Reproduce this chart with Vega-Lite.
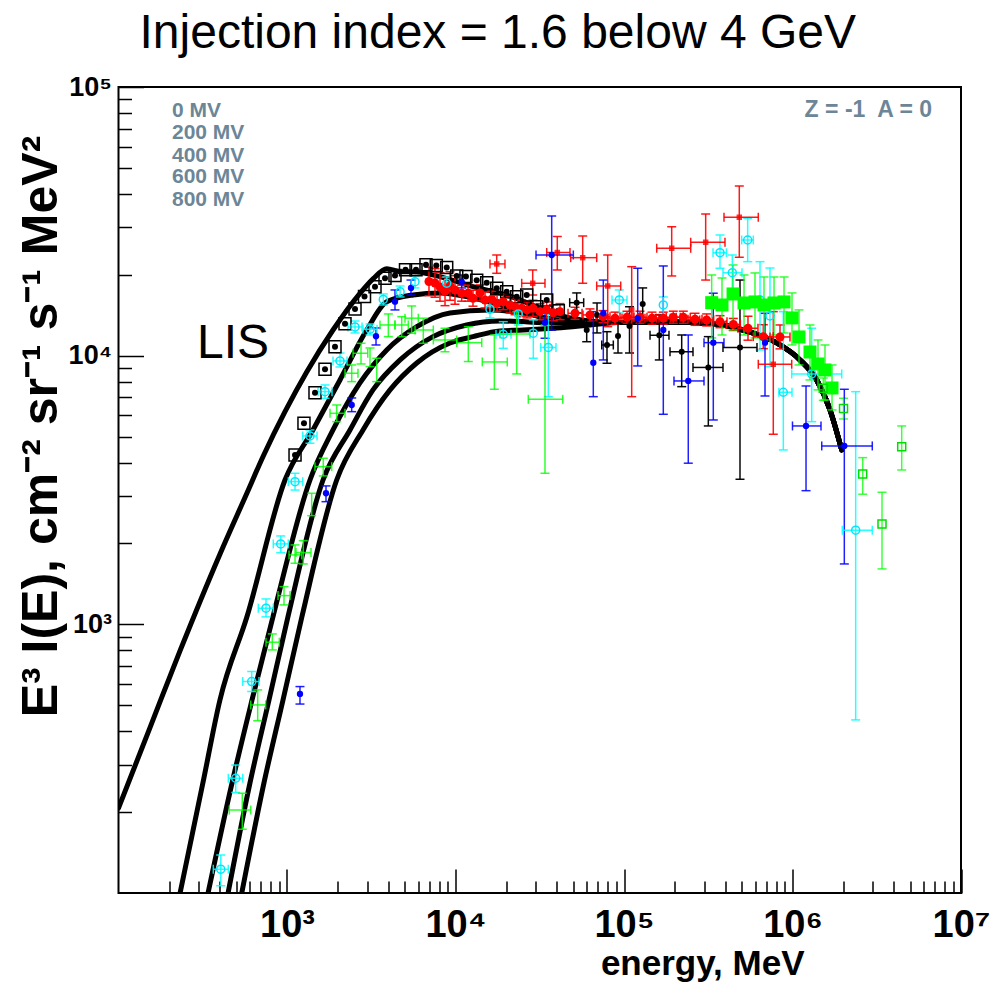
{
  "$schema": "https://vega.github.io/schema/vega-lite/v6.json",
  "width": 842.5,
  "height": 806,
  "autosize": {"type": "none"},
  "padding": {"left": 118.5, "top": 87, "right": 29, "bottom": 89},
  "background": "white",
  "config": {"view": {"stroke": "black", "strokeWidth": 2}, "font": "Liberation Sans"},
  "datasets": {
    "curves": [
      {"c": "LIS", "E": 100, "F": 207}, {"c": "LIS", "E": 153.8, "F": 412.9}, {"c": "LIS", "E": 231.7, "F": 796.2}, {"c": "LIS", "E": 400.4, "F": 1828}, {"c": "LIS", "E": 577, "F": 3070}, {"c": "LIS", "E": 723.3, "F": 4233}, {"c": "LIS", "E": 973, "F": 6188}, {"c": "LIS", "E": 1309, "F": 8697}, {"c": "LIS", "E": 1875, "F": 12460}, {"c": "LIS", "E": 2710, "F": 17060}, {"c": "LIS", "E": 3252, "F": 19360}, {"c": "LIS", "E": 3908, "F": 21080}, {"c": "LIS", "E": 4690, "F": 20540}, {"c": "LIS", "E": 5890, "F": 20490}, {"c": "LIS", "E": 8090, "F": 19680}, {"c": "LIS", "E": 12700, "F": 18070}, {"c": "LIS", "E": 20140, "F": 16820}, {"c": "LIS", "E": 31740, "F": 15050}, {"c": "LIS", "E": 47800, "F": 13820}, {"c": "LIS", "E": 90900, "F": 13290}, {"c": "LIS", "E": 163600, "F": 13350}, {"c": "LIS", "E": 323800, "F": 13200}, {"c": "LIS", "E": 508400, "F": 12460}, {"c": "LIS", "E": 806000, "F": 11150}, {"c": "LIS", "E": 1108000, "F": 9640}, {"c": "LIS", "E": 1392000, "F": 8120}, {"c": "LIS", "E": 1670000, "F": 6280}, {"c": "LIS", "E": 1959000, "F": 4457},
      {"c": "M200", "E": 232, "F": 100}, {"c": "M200", "E": 317, "F": 257}, {"c": "M200", "E": 400, "F": 523}, {"c": "M200", "E": 579, "F": 1069}, {"c": "M200", "E": 973, "F": 3445}, {"c": "M200", "E": 1426, "F": 5290}, {"c": "M200", "E": 2063, "F": 8120}, {"c": "M200", "E": 2972, "F": 12460}, {"c": "M200", "E": 3908, "F": 15880}, {"c": "M200", "E": 5600, "F": 16830}, {"c": "M200", "E": 8090, "F": 17120}, {"c": "M200", "E": 12700, "F": 16400}, {"c": "M200", "E": 20140, "F": 15220}, {"c": "M200", "E": 31740, "F": 13970}, {"c": "M200", "E": 47800, "F": 13350}, {"c": "M200", "E": 90900, "F": 13290}, {"c": "M200", "E": 163600, "F": 13350}, {"c": "M200", "E": 323800, "F": 13200}, {"c": "M200", "E": 508400, "F": 12460}, {"c": "M200", "E": 806000, "F": 11150}, {"c": "M200", "E": 1108000, "F": 9640}, {"c": "M200", "E": 1392000, "F": 8120}, {"c": "M200", "E": 1670000, "F": 6280}, {"c": "M200", "E": 1959000, "F": 4457},
      {"c": "M400", "E": 340, "F": 100}, {"c": "M400", "E": 472, "F": 257}, {"c": "M400", "E": 620, "F": 523}, {"c": "M400", "E": 826, "F": 1069}, {"c": "M400", "E": 1369, "F": 3445}, {"c": "M400", "E": 1875, "F": 5290}, {"c": "M400", "E": 2710, "F": 7913}, {"c": "M400", "E": 3908, "F": 10500}, {"c": "M400", "E": 5890, "F": 12820}, {"c": "M400", "E": 9270, "F": 14420}, {"c": "M400", "E": 16020, "F": 14790}, {"c": "M400", "E": 25160, "F": 14420}, {"c": "M400", "E": 39870, "F": 13580}, {"c": "M400", "E": 90900, "F": 13290}, {"c": "M400", "E": 163600, "F": 13350}, {"c": "M400", "E": 323800, "F": 13200}, {"c": "M400", "E": 508400, "F": 12460}, {"c": "M400", "E": 806000, "F": 11150}, {"c": "M400", "E": 1108000, "F": 9640}, {"c": "M400", "E": 1392000, "F": 8120}, {"c": "M400", "E": 1670000, "F": 6280}, {"c": "M400", "E": 1959000, "F": 4457},
      {"c": "M600", "E": 447, "F": 100}, {"c": "M600", "E": 603, "F": 257}, {"c": "M600", "E": 782, "F": 523}, {"c": "M600", "E": 1014, "F": 1069}, {"c": "M600", "E": 1636, "F": 3445}, {"c": "M600", "E": 2365, "F": 5290}, {"c": "M600", "E": 3238, "F": 7455}, {"c": "M600", "E": 4690, "F": 9640}, {"c": "M600", "E": 7355, "F": 11770}, {"c": "M600", "E": 11650, "F": 13010}, {"c": "M600", "E": 18370, "F": 13460}, {"c": "M600", "E": 39870, "F": 13240}, {"c": "M600", "E": 90900, "F": 13290}, {"c": "M600", "E": 163600, "F": 13350}, {"c": "M600", "E": 323800, "F": 13200}, {"c": "M600", "E": 508400, "F": 12460}, {"c": "M600", "E": 806000, "F": 11150}, {"c": "M600", "E": 1108000, "F": 9640}, {"c": "M600", "E": 1392000, "F": 8120}, {"c": "M600", "E": 1670000, "F": 6280}, {"c": "M600", "E": 1959000, "F": 4457},
      {"c": "M800", "E": 539, "F": 100}, {"c": "M800", "E": 730, "F": 257}, {"c": "M800", "E": 947, "F": 523}, {"c": "M800", "E": 1227, "F": 1069}, {"c": "M800", "E": 1972, "F": 3445}, {"c": "M800", "E": 2825, "F": 5290}, {"c": "M800", "E": 4087, "F": 7455}, {"c": "M800", "E": 5890, "F": 9393}, {"c": "M800", "E": 9270, "F": 11150}, {"c": "M800", "E": 12700, "F": 11770}, {"c": "M800", "E": 18370, "F": 12360}, {"c": "M800", "E": 25160, "F": 12460}, {"c": "M800", "E": 39870, "F": 12680}, {"c": "M800", "E": 62810, "F": 13010}, {"c": "M800", "E": 90900, "F": 13290}, {"c": "M800", "E": 163600, "F": 13350}, {"c": "M800", "E": 323800, "F": 13200}, {"c": "M800", "E": 508400, "F": 12460}, {"c": "M800", "E": 806000, "F": 11150}, {"c": "M800", "E": 1108000, "F": 9640}, {"c": "M800", "E": 1392000, "F": 8120}, {"c": "M800", "E": 1670000, "F": 6280}, {"c": "M800", "E": 1959000, "F": 4457}
    ],
    "pts": [
      {"s": "A", "E": 1116, "F": 4271}, {"s": "A", "E": 1261, "F": 5603}, {"s": "A", "E": 1466, "F": 7284}, {"s": "A", "E": 1681, "F": 8900}, {"s": "A", "E": 1927, "F": 10800}, {"s": "A", "E": 2209, "F": 13160}, {"s": "A", "E": 2533, "F": 14920}, {"s": "A", "E": 2884, "F": 16610}, {"s": "A", "E": 3329, "F": 18070}, {"s": "A", "E": 3816, "F": 19420}, {"s": "A", "E": 4374, "F": 19890}, {"s": "A", "E": 5050, "F": 20900}, {"s": "A", "E": 5830, "F": 20900}, {"s": "A", "E": 6681, "F": 21820}, {"s": "A", "E": 7691, "F": 21660}, {"s": "A", "E": 8867, "F": 21290}, {"s": "A", "E": 10170, "F": 19800}, {"s": "A", "E": 11540, "F": 19720}, {"s": "A", "E": 13360, "F": 19080}, {"s": "A", "E": 15320, "F": 18700}, {"s": "A", "E": 17560, "F": 17810}, {"s": "A", "E": 20130, "F": 17300}, {"s": "A", "E": 23080, "F": 16580}, {"s": "A", "E": 26460, "F": 16820}, {"s": "A", "E": 30340, "F": 15220}, {"s": "A", "E": 34780, "F": 16120}, {"s": "A", "E": 40750, "F": 14710},
      {"s": "B", "E": 52400, "F": 15750, "Flo": 14420, "Fhi": 17120, "Elo": 47610, "Ehi": 57650},
      {"s": "B", "E": 60070, "F": 12460, "Flo": 11270, "Fhi": 13580},
      {"s": "B", "E": 69160, "F": 14180, "Flo": 12150, "Fhi": 15710},
      {"s": "B", "E": 79270, "F": 10960, "Flo": 9369, "Fhi": 12280, "Elo": 73760, "Ehi": 86420},
      {"s": "B", "E": 92140, "F": 11840, "Flo": 10230, "Fhi": 13240},
      {"s": "B", "E": 107800, "F": 12900, "Flo": 10230, "Fhi": 15220},
      {"s": "B", "E": 129100, "F": 15570, "Flo": 13580, "Fhi": 17870},
      {"s": "B", "E": 162000, "F": 11910, "Flo": 9640, "Fhi": 14180, "Elo": 142700, "Ehi": 184900},
      {"s": "B", "E": 220000, "F": 10340, "Flo": 7668, "Fhi": 11940, "Elo": 187500, "Ehi": 256700},
      {"s": "B", "E": 316500, "F": 9040, "Flo": 5475, "Fhi": 11770, "Elo": 256700, "Ehi": 386800},
      {"s": "B", "E": 488000, "F": 10730, "Flo": 3467, "Fhi": 19120, "Elo": 386800, "Ehi": 615600},
      {"s": "C", "E": 6961, "F": 18890, "Flo": 16720, "Fhi": 21340},
      {"s": "C", "E": 7554, "F": 18650, "Flo": 16500, "Fhi": 21070},
      {"s": "C", "E": 8090, "F": 18020, "Flo": 15950, "Fhi": 20360},
      {"s": "C", "E": 8665, "F": 17340, "Flo": 15350, "Fhi": 19590},
      {"s": "C", "E": 9276, "F": 18170, "Flo": 16080, "Fhi": 20530},
      {"s": "C", "E": 9931, "F": 17560, "Flo": 15540, "Fhi": 19840},
      {"s": "C", "E": 10880, "F": 17080, "Flo": 15950, "Fhi": 18290},
      {"s": "C", "E": 11870, "F": 17080, "Flo": 15950, "Fhi": 18290},
      {"s": "C", "E": 12700, "F": 16360, "Flo": 15280, "Fhi": 17520},
      {"s": "C", "E": 13980, "F": 17120, "Flo": 15990, "Fhi": 18340},
      {"s": "C", "E": 14970, "F": 16120, "Flo": 15050, "Fhi": 17260},
      {"s": "C", "E": 16400, "F": 16220, "Flo": 15150, "Fhi": 17370},
      {"s": "C", "E": 17640, "F": 15670, "Flo": 14630, "Fhi": 16780},
      {"s": "C", "E": 19210, "F": 15880, "Flo": 14830, "Fhi": 17010},
      {"s": "C", "E": 21060, "F": 15440, "Flo": 14420, "Fhi": 16540},
      {"s": "C", "E": 22550, "F": 15220, "Flo": 14210, "Fhi": 16300},
      {"s": "C", "E": 24710, "F": 15010, "Flo": 14010, "Fhi": 16080},
      {"s": "C", "E": 26570, "F": 14800, "Flo": 13820, "Fhi": 15850},
      {"s": "C", "E": 28840, "F": 15010, "Flo": 14010, "Fhi": 16080},
      {"s": "C", "E": 31740, "F": 14580, "Flo": 13610, "Fhi": 15620},
      {"s": "C", "E": 34780, "F": 14800, "Flo": 13820, "Fhi": 15850},
      {"s": "C", "E": 38050, "F": 14450, "Flo": 13490, "Fhi": 15480},
      {"s": "C", "E": 41710, "F": 14580, "Flo": 13610, "Fhi": 15620},
      {"s": "C", "E": 51210, "F": 14380, "Flo": 13660, "Fhi": 15140, "Elo": 46540, "Ehi": 56350},
      {"s": "C", "E": 62840, "F": 14180, "Flo": 13470, "Fhi": 14930, "Elo": 57110, "Ehi": 69140},
      {"s": "C", "E": 75060, "F": 13970, "Flo": 13270, "Fhi": 14710, "Elo": 68220, "Ehi": 82590},
      {"s": "C", "E": 88450, "F": 13790, "Flo": 13100, "Fhi": 14520, "Elo": 80390, "Ehi": 97320},
      {"s": "C", "E": 104200, "F": 13900, "Flo": 13200, "Fhi": 14640, "Elo": 94700, "Ehi": 114700},
      {"s": "C", "E": 124400, "F": 13900, "Flo": 13200, "Fhi": 14640, "Elo": 113100, "Ehi": 136900},
      {"s": "C", "E": 146600, "F": 13790, "Flo": 13100, "Fhi": 14520, "Elo": 133200, "Ehi": 161300},
      {"s": "C", "E": 171100, "F": 13790, "Flo": 13100, "Fhi": 14520, "Elo": 155500, "Ehi": 188300},
      {"s": "C", "E": 196100, "F": 13900, "Flo": 13200, "Fhi": 14640, "Elo": 178200, "Ehi": 215800},
      {"s": "C", "E": 224800, "F": 13900, "Flo": 13200, "Fhi": 14640, "Elo": 204300, "Ehi": 247300},
      {"s": "C", "E": 263900, "F": 13660, "Flo": 12970, "Fhi": 14380, "Elo": 239800, "Ehi": 290400},
      {"s": "C", "E": 309500, "F": 13580, "Flo": 12900, "Fhi": 14300, "Elo": 281300, "Ehi": 340500},
      {"s": "C", "E": 371300, "F": 13380, "Flo": 12710, "Fhi": 14090, "Elo": 337500, "Ehi": 408500},
      {"s": "C", "E": 445400, "F": 13070, "Flo": 12410, "Fhi": 13760, "Elo": 404800, "Ehi": 490100},
      {"s": "C", "E": 544200, "F": 12650, "Flo": 11420, "Fhi": 14020, "Elo": 474900, "Ehi": 623700},
      {"s": "C", "E": 671000, "F": 11770, "Flo": 10620, "Fhi": 13040, "Elo": 585500, "Ehi": 769000},
      {"s": "C", "E": 843000, "F": 11740, "Flo": 10600, "Fhi": 13010, "Elo": 735600, "Ehi": 966100},
      {"s": "D", "E": 17560, "F": 21950, "Flo": 20260, "Fhi": 23700, "Elo": 16020, "Ehi": 19660},
      {"s": "D", "E": 28720, "F": 18600, "Flo": 16820, "Fhi": 20840, "Elo": 24710, "Ehi": 33970},
      {"s": "D", "E": 40190, "F": 24220, "Flo": 20840, "Fhi": 27740, "Elo": 34780, "Ehi": 47800},
      {"s": "D", "E": 56870, "F": 23160, "Flo": 18600, "Fhi": 27900, "Elo": 48270, "Ehi": 68870},
      {"s": "D", "E": 80040, "F": 18170, "Flo": 12820, "Fhi": 23700, "Elo": 68870, "Ehi": 95610},
      {"s": "D", "E": 111100, "F": 14790, "Flo": 7037, "Fhi": 21440},
      {"s": "D", "E": 191900, "F": 25100, "Flo": 19800, "Fhi": 30210, "Elo": 156400, "Ehi": 248800},
      {"s": "D", "E": 305300, "F": 26420, "Flo": 19120, "Fhi": 33680, "Elo": 248800, "Ehi": 397500},
      {"s": "D", "E": 483300, "F": 32740, "Flo": 23240, "Fhi": 42810, "Elo": 392100, "Ehi": 626600},
      {"s": "D", "E": 769100, "F": 9290, "Flo": 5099, "Fhi": 14580, "Elo": 626600, "Ehi": 989300},
      {"s": "E", "E": 1194, "F": 550.8, "Flo": 505, "Fhi": 586.6},
      {"s": "E", "E": 1704, "F": 3075, "Flo": 2861, "Fhi": 3275},
      {"s": "E", "E": 2421, "F": 6553, "Flo": 6188, "Fhi": 6958},
      {"s": "E", "E": 3375, "F": 11810, "Flo": 10960, "Fhi": 12680},
      {"s": "E", "E": 4374, "F": 15880, "Flo": 14800, "Fhi": 17560},
      {"s": "E", "E": 5444, "F": 17870, "Flo": 16820, "Fhi": 19120},
      {"s": "E", "E": 10880, "F": 18860, "Flo": 17870, "Fhi": 19970},
      {"s": "E", "E": 33970, "F": 13270, "Flo": 11610, "Fhi": 15010},
      {"s": "E", "E": 37230, "F": 23700, "Flo": 12460, "Fhi": 33110, "Elo": 30050, "Ehi": 50030},
      {"s": "E", "E": 65730, "F": 9413, "Flo": 7037, "Fhi": 14580},
      {"s": "E", "E": 75360, "F": 14380, "Flo": 9640, "Fhi": 19120},
      {"s": "E", "E": 120600, "F": 13790, "Flo": 9156, "Fhi": 21150},
      {"s": "E", "E": 171100, "F": 12460, "Flo": 6051, "Fhi": 21570},
      {"s": "E", "E": 240700, "F": 8052, "Flo": 3979, "Fhi": 11940, "Elo": 198000, "Ehi": 298400},
      {"s": "E", "E": 338800, "F": 11180, "Flo": 5763, "Fhi": 17080, "Elo": 298400, "Ehi": 392100},
      {"s": "E", "E": 686800, "F": 11180, "Flo": 7079, "Fhi": 14380},
      {"s": "E", "E": 1203000, "F": 5475, "Flo": 3144, "Fhi": 7712, "Elo": 999800, "Ehi": 1476000},
      {"s": "E", "E": 2030000, "F": 4613, "Flo": 1678, "Fhi": 7497, "Elo": 1491000, "Ehi": 2975000},
      {"s": "F", "E": 404.2, "F": 122.6, "Flo": 106.3, "Fhi": 138.6, "Elo": 365.3, "Ehi": 448.4},
      {"s": "F", "E": 496.1, "F": 267.4, "Flo": 236.4, "Fhi": 299.7, "Elo": 448.4, "Ehi": 545.9},
      {"s": "F", "E": 617.4, "F": 612.2, "Flo": 561.9, "Fhi": 666.8, "Elo": 545.9, "Ehi": 682},
      {"s": "F", "E": 750.6, "F": 1148, "Flo": 1066, "Fhi": 1243, "Elo": 675.5, "Ehi": 829},
      {"s": "F", "E": 917.6, "F": 1992, "Flo": 1849, "Fhi": 2133, "Elo": 829, "Ehi": 1018},
      {"s": "F", "E": 1116, "F": 3397, "Flo": 3161, "Fhi": 3650, "Elo": 1018, "Ehi": 1239},
      {"s": "F", "E": 1369, "F": 5025, "Flo": 4721, "Fhi": 5290, "Elo": 1239, "Ehi": 1507},
      {"s": "F", "E": 1681, "F": 7345, "Flo": 6941, "Fhi": 7780, "Elo": 1528, "Ehi": 1850},
      {"s": "F", "E": 2063, "F": 9557, "Flo": 9077, "Fhi": 10230, "Elo": 1875, "Ehi": 2271},
      {"s": "F", "E": 2533, "F": 12790, "Flo": 12150, "Fhi": 13460, "Elo": 2301, "Ehi": 2787},
      {"s": "F", "E": 3109, "F": 12540, "Flo": 11940, "Fhi": 13120, "Elo": 2825, "Ehi": 3421},
      {"s": "F", "E": 3728, "F": 16190, "Flo": 15440, "Fhi": 16970},
      {"s": "F", "E": 4690, "F": 17300, "Flo": 16540, "Fhi": 18170},
      {"s": "F", "E": 5750, "F": 18860, "Flo": 17870, "Fhi": 19800},
      {"s": "F", "E": 8867, "F": 18600, "Flo": 17560, "Fhi": 19630},
      {"s": "F", "E": 16020, "F": 14890, "Flo": 13820, "Fhi": 16120},
      {"s": "F", "E": 19210, "F": 12010, "Flo": 10650, "Fhi": 13380, "Elo": 17390, "Ehi": 21350},
      {"s": "F", "E": 23590, "F": 14300, "Flo": 13010, "Fhi": 15440},
      {"s": "F", "E": 28960, "F": 12120, "Flo": 9779, "Fhi": 13580},
      {"s": "F", "E": 35530, "F": 10730, "Flo": 7037, "Fhi": 14380, "Elo": 32040, "Ehi": 39480},
      {"s": "F", "E": 93780, "F": 16120, "Flo": 14420, "Fhi": 17560, "Elo": 84890, "Ehi": 104200},
      {"s": "F", "E": 171100, "F": 15440, "Flo": 13820, "Fhi": 16540},
      {"s": "F", "E": 371300, "F": 24180, "Flo": 21150, "Fhi": 28130, "Elo": 337400, "Ehi": 405600},
      {"s": "F", "E": 439300, "F": 20370, "Flo": 16580, "Fhi": 23700, "Elo": 386800, "Ehi": 501600},
      {"s": "F", "E": 542100, "F": 26950, "Flo": 22380, "Fhi": 32460, "Elo": 499500, "Ehi": 585400},
      {"s": "F", "E": 641500, "F": 16120, "Flo": 10500, "Fhi": 22380},
      {"s": "F", "E": 735200, "F": 14060, "Flo": 9102, "Fhi": 21200},
      {"s": "F", "E": 881900, "F": 7309, "Flo": 4457, "Fhi": 14580, "Elo": 830600, "Ehi": 993100},
      {"s": "F", "E": 1300000, "F": 8550, "Flo": 5680, "Fhi": 12650, "Elo": 989300, "Ehi": 1959000},
      {"s": "F", "E": 2371000, "F": 2240, "Flo": 440.8, "Fhi": 7345, "Elo": 1975000, "Ehi": 2975000},
      {"s": "G", "E": 542.9, "F": 203.8, "Flo": 172.8, "Fhi": 235.2, "Elo": 454.6, "Ehi": 609},
      {"s": "G", "E": 669.9, "F": 501.3, "Flo": 438.1, "Fhi": 570.1, "Elo": 609, "Ehi": 747.5},
      {"s": "G", "E": 818.1, "F": 858, "Flo": 803.1, "Fhi": 921.1, "Elo": 750.6, "Ehi": 900.3},
      {"s": "G", "E": 959.8, "F": 1279, "Flo": 1181, "Fhi": 1381, "Elo": 884.4, "Ehi": 1042},
      {"s": "G", "E": 1116, "F": 1813, "Flo": 1688, "Fhi": 1975, "Elo": 1028, "Ehi": 1222},
      {"s": "G", "E": 1249, "F": 1849, "Flo": 1678, "Fhi": 2049, "Elo": 1131, "Ehi": 1388},
      {"s": "G", "E": 1401, "F": 2799, "Flo": 2538, "Fhi": 3075},
      {"s": "G", "E": 1642, "F": 3863, "Flo": 3567, "Fhi": 4151, "Elo": 1466, "Ehi": 1842},
      {"s": "G", "E": 1972, "F": 6103, "Flo": 5680, "Fhi": 6553, "Elo": 1800, "Ehi": 2209},
      {"s": "G", "E": 2421, "F": 8602, "Flo": 8004, "Fhi": 9235, "Elo": 2209, "Ehi": 2638},
      {"s": "G", "E": 2749, "F": 10210, "Flo": 9314, "Fhi": 11120, "Elo": 2465, "Ehi": 3015},
      {"s": "G", "E": 3109, "F": 9779, "Flo": 9102, "Fhi": 10680},
      {"s": "G", "E": 3407, "F": 8847, "Flo": 8004, "Fhi": 9779},
      {"s": "G", "E": 3993, "F": 13010, "Flo": 11770, "Fhi": 14300, "Elo": 3564, "Ehi": 4374},
      {"s": "G", "E": 4795, "F": 13010, "Flo": 11770, "Fhi": 13970, "Elo": 4374, "Ehi": 5247},
      {"s": "G", "E": 5495, "F": 13790, "Flo": 12120, "Fhi": 15310, "Elo": 5015, "Ehi": 6015},
      {"s": "G", "E": 6439, "F": 12460, "Flo": 11120, "Fhi": 13790, "Elo": 5750, "Ehi": 7385},
      {"s": "G", "E": 8665, "F": 11440, "Flo": 10340, "Fhi": 12650, "Elo": 7385, "Ehi": 10170},
      {"s": "G", "E": 11910, "F": 11180, "Flo": 9510, "Fhi": 12820, "Elo": 10170, "Ehi": 14310},
      {"s": "G", "E": 17000, "F": 9476, "Flo": 7497, "Fhi": 11940, "Elo": 14420, "Ehi": 20290},
      {"s": "G", "E": 23080, "F": 12040, "Flo": 8550, "Fhi": 14580, "Elo": 18370, "Ehi": 27680},
      {"s": "G", "E": 33970, "F": 6880, "Flo": 3650, "Fhi": 13010, "Elo": 27040, "Ehi": 43280},
      {"s": "H", "E": 331400, "F": 15750, "Flo": 11640, "Fhi": 19970},
      {"s": "H", "E": 381600, "F": 15440, "Flo": 11940, "Fhi": 19460},
      {"s": "H", "E": 443600, "F": 16970, "Flo": 12460, "Fhi": 21760},
      {"s": "H", "E": 515500, "F": 15710, "Flo": 11940, "Fhi": 19970},
      {"s": "H", "E": 599000, "F": 15850, "Flo": 11640, "Fhi": 20320},
      {"s": "H", "E": 677400, "F": 15440, "Flo": 11440, "Fhi": 19630},
      {"s": "H", "E": 776800, "F": 15710, "Flo": 11940, "Fhi": 19630},
      {"s": "H", "E": 890600, "F": 15850, "Flo": 12150, "Fhi": 19630},
      {"s": "H", "E": 993100, "F": 13820, "Flo": 10960, "Fhi": 17120},
      {"s": "H", "E": 1093000, "F": 11740, "Flo": 9235, "Fhi": 14800},
      {"s": "H", "E": 1270000, "F": 10320, "Flo": 8122, "Fhi": 13010},
      {"s": "H", "E": 1417000, "F": 9314, "Flo": 7457, "Fhi": 11440},
      {"s": "H", "E": 1559000, "F": 8847, "Flo": 6841, "Fhi": 10960},
      {"s": "H", "E": 1716000, "F": 7582, "Flo": 6280, "Fhi": 9235},
      {"s": "I", "E": 1523000, "F": 7563, "Flo": 6818, "Fhi": 8260},
      {"s": "I", "E": 2008000, "F": 6362, "Flo": 5813, "Fhi": 6941},
      {"s": "I", "E": 2610000, "F": 3628, "Flo": 3050, "Fhi": 4173},
      {"s": "I", "E": 3398000, "F": 2364, "Flo": 1608, "Fhi": 3102},
      {"s": "I", "E": 4447000, "F": 4585, "Flo": 3754, "Fhi": 5475}
    ],
    "txt": [
      {"g": "mv", "t": "0 MV", "E": 207.7, "F": 77560},
      {"g": "mv", "t": "200 MV", "E": 207.7, "F": 63890},
      {"g": "mv", "t": "400 MV", "E": 207.7, "F": 52720},
      {"g": "mv", "t": "600 MV", "E": 207.7, "F": 43810},
      {"g": "mv", "t": "800 MV", "E": 207.7, "F": 36070},
      {"g": "za", "t": "Z = -1\u00a0 A = 0", "E": 6730000, "F": 77150},
      {"g": "lis", "t": "LIS", "E": 292.4, "F": 9804},
      {"g": "title", "t": "Injection index = 1.6 below 4 GeV", "E": 17810, "F": 139700}
    ]
  },
  "layer": [
    {
      "data": {"name": "curves"},
      "mark": {"type": "line", "color": "black", "strokeWidth": 5, "interpolate": "monotone", "clip": true, "strokeCap": "round"},
      "encoding": {
        "x": {"field": "E", "type": "quantitative", "title": "energy, MeV",
          "scale": {"type": "log", "domain": [100, 10000000], "nice": false},
          "axis": {"orient": "bottom",
            "values": [200, 300, 400, 500, 600, 700, 800, 900, 1000, 2000, 3000, 4000, 5000, 6000, 7000, 8000, 9000, 10000, 20000, 30000, 40000, 50000, 60000, 70000, 80000, 90000, 100000, 200000, 300000, 400000, 500000, 600000, 700000, 800000, 900000, 1000000, 2000000, 3000000, 4000000, 5000000, 6000000, 7000000, 8000000, 9000000, 10000000],
            "labelExpr": "abs(log(datum.value)/LN10 - round(log(datum.value)/LN10)) < 0.001 ? '10' + substring('⁰¹²³⁴⁵⁶⁷⁸⁹', round(log(datum.value)/LN10), round(log(datum.value)/LN10) + 1) : ''",
            "tickSize": {"condition": {"test": "abs(log(datum.value)/LN10 - round(log(datum.value)/LN10)) < 0.001", "value": -24}, "value": -12},
            "tickColor": "black", "tickWidth": 1.5, "domain": false, "grid": false,
            "labelFont": "Liberation Sans Narrow, Liberation Sans", "labelFontWeight": "bold", "labelFontSize": 38, "labelColor": "black",
            "labelPadding": 37, "labelFlush": false, "labelOverlap": false, "labelBaseline": "top",
            "titleFont": "Liberation Sans", "titleFontWeight": "bold", "titleFontSize": 35, "titleColor": "black",
            "titleAlign": "right", "titleBaseline": "alphabetic", "titleX": 685.5, "titleY": 81}
        },
        "y": {"field": "F", "type": "quantitative", "title": "E³ I(E), cm⁻² sr⁻¹ s⁻¹ MeV²",
          "scale": {"type": "log", "domain": [100, 100000], "nice": false},
          "axis": {"orient": "left",
            "values": [200, 300, 400, 500, 600, 700, 800, 900, 1000, 2000, 3000, 4000, 5000, 6000, 7000, 8000, 9000, 10000, 20000, 30000, 40000, 50000, 60000, 70000, 80000, 90000, 100000],
            "labelExpr": "abs(log(datum.value)/LN10 - round(log(datum.value)/LN10)) < 0.001 ? '10' + substring('⁰¹²³⁴⁵⁶⁷⁸⁹', round(log(datum.value)/LN10), round(log(datum.value)/LN10) + 1) : ''",
            "tickSize": {"condition": {"test": "abs(log(datum.value)/LN10 - round(log(datum.value)/LN10)) < 0.001", "value": -25}, "value": -13},
            "tickColor": "black", "tickWidth": 1.5, "domain": false, "grid": false,
            "labelFont": "Liberation Sans", "labelFontWeight": "bold", "labelFontSize": 27, "labelColor": "black",
            "labelPadding": 32, "labelFlush": false, "labelOverlap": false,
            "titleFont": "Liberation Sans", "titleFontWeight": "bold", "titleFontSize": 50, "titleColor": "black",
            "titleAngle": -90, "titleAlign": "center", "titleBaseline": "alphabetic", "titleX": -62, "titleY": 339}
        },
        "detail": {"field": "c", "type": "nominal"}
      }
    },
    {
      "data": {"name": "pts"},
      "transform": [{"filter": "isValid(datum.Flo)"}],
      "mark": {"type": "errorbar", "ticks": {"size": 9}, "thickness": 1.5, "clip": true},
      "encoding": {
        "x": {"field": "E", "type": "quantitative", "title": "energy, MeV", "scale": {"type": "log", "domain": [100, 10000000], "nice": false}},
        "y": {"field": "Flo", "type": "quantitative", "title": "E³ I(E), cm⁻² sr⁻¹ s⁻¹ MeV²", "scale": {"type": "log", "domain": [100, 100000], "nice": false}},
        "y2": {"field": "Fhi"},
        "color": {"field": "s", "type": "nominal", "legend": null, "scale": {"domain": ["A", "B", "C", "D", "E", "F", "G", "H", "I"], "range": ["#000000", "#000000", "#ff0000", "#ff0000", "#0000ff", "#00ffff", "#00ff00", "#00ff00", "#00ff00"]}},
        "opacity": {"field": "s", "type": "nominal", "legend": null, "scale": {"domain": ["A", "B", "C", "D", "E", "F", "G", "H", "I"], "range": [1, 0.75, 0.6, 0.5, 0.8, 0.7, 0.9, 0.9, 0.9]}}
      }
    },
    {
      "data": {"name": "pts"},
      "transform": [{"filter": "isValid(datum.Elo)"}],
      "mark": {"type": "errorbar", "ticks": {"size": 9}, "thickness": 1.5, "clip": true},
      "encoding": {
        "y": {"field": "F", "type": "quantitative", "title": "E³ I(E), cm⁻² sr⁻¹ s⁻¹ MeV²", "scale": {"type": "log", "domain": [100, 100000], "nice": false}},
        "x": {"field": "Elo", "type": "quantitative", "title": "energy, MeV", "scale": {"type": "log", "domain": [100, 10000000], "nice": false}},
        "x2": {"field": "Ehi"},
        "color": {"field": "s", "type": "nominal", "legend": null, "scale": {"domain": ["A", "B", "C", "D", "E", "F", "G", "H", "I"], "range": ["#000000", "#000000", "#ff0000", "#ff0000", "#0000ff", "#00ffff", "#00ff00", "#00ff00", "#00ff00"]}},
        "opacity": {"field": "s", "type": "nominal", "legend": null, "scale": {"domain": ["A", "B", "C", "D", "E", "F", "G", "H", "I"], "range": [1, 0.75, 0.6, 0.5, 0.8, 0.7, 0.9, 0.9, 0.9]}}
      }
    },
    {
      "data": {"name": "pts"},
      "transform": [{"filter": "datum.s === 'A'"}],
      "mark": {"type": "point", "shape": "square", "filled": false, "size": 144, "color": "black", "strokeWidth": 1.5, "opacity": 1, "clip": true},
      "encoding": {
        "x": {"field": "E", "type": "quantitative", "title": "energy, MeV", "scale": {"type": "log", "domain": [100, 10000000], "nice": false}},
        "y": {"field": "F", "type": "quantitative", "title": "E³ I(E), cm⁻² sr⁻¹ s⁻¹ MeV²", "scale": {"type": "log", "domain": [100, 100000], "nice": false}}
      }
    },
    {
      "data": {"name": "pts"},
      "transform": [{"filter": "datum.s === 'A' || datum.s === 'B'"}],
      "mark": {"type": "point", "shape": "circle", "filled": true, "size": 36, "color": "black", "opacity": 1, "clip": true},
      "encoding": {
        "x": {"field": "E", "type": "quantitative", "title": "energy, MeV", "scale": {"type": "log", "domain": [100, 10000000], "nice": false}},
        "y": {"field": "F", "type": "quantitative", "title": "E³ I(E), cm⁻² sr⁻¹ s⁻¹ MeV²", "scale": {"type": "log", "domain": [100, 100000], "nice": false}}
      }
    },
    {
      "data": {"name": "pts"},
      "transform": [{"filter": "datum.s === 'C'"}],
      "mark": {"type": "point", "shape": "circle", "filled": true, "size": 81, "color": "#ff0000", "opacity": 1, "clip": true},
      "encoding": {
        "x": {"field": "E", "type": "quantitative", "title": "energy, MeV", "scale": {"type": "log", "domain": [100, 10000000], "nice": false}},
        "y": {"field": "F", "type": "quantitative", "title": "E³ I(E), cm⁻² sr⁻¹ s⁻¹ MeV²", "scale": {"type": "log", "domain": [100, 100000], "nice": false}}
      }
    },
    {
      "data": {"name": "pts"},
      "transform": [{"filter": "datum.s === 'D'"}],
      "mark": {"type": "point", "shape": "square", "filled": true, "size": 30, "color": "#ff0000", "opacity": 0.8, "clip": true},
      "encoding": {
        "x": {"field": "E", "type": "quantitative", "title": "energy, MeV", "scale": {"type": "log", "domain": [100, 10000000], "nice": false}},
        "y": {"field": "F", "type": "quantitative", "title": "E³ I(E), cm⁻² sr⁻¹ s⁻¹ MeV²", "scale": {"type": "log", "domain": [100, 100000], "nice": false}}
      }
    },
    {
      "data": {"name": "pts"},
      "transform": [{"filter": "datum.s === 'E'"}],
      "mark": {"type": "point", "shape": "circle", "filled": true, "size": 40, "color": "#0000ff", "opacity": 1, "clip": true},
      "encoding": {
        "x": {"field": "E", "type": "quantitative", "title": "energy, MeV", "scale": {"type": "log", "domain": [100, 10000000], "nice": false}},
        "y": {"field": "F", "type": "quantitative", "title": "E³ I(E), cm⁻² sr⁻¹ s⁻¹ MeV²", "scale": {"type": "log", "domain": [100, 100000], "nice": false}}
      }
    },
    {
      "data": {"name": "pts"},
      "transform": [{"filter": "datum.s === 'F'"}],
      "mark": {"type": "point", "shape": "circle", "filled": false, "size": 64, "color": "#00e5ff", "strokeWidth": 1.5, "opacity": 1, "clip": true},
      "encoding": {
        "x": {"field": "E", "type": "quantitative", "title": "energy, MeV", "scale": {"type": "log", "domain": [100, 10000000], "nice": false}},
        "y": {"field": "F", "type": "quantitative", "title": "E³ I(E), cm⁻² sr⁻¹ s⁻¹ MeV²", "scale": {"type": "log", "domain": [100, 100000], "nice": false}}
      }
    },
    {
      "data": {"name": "pts"},
      "transform": [{"filter": "datum.s === 'H'"}],
      "mark": {"type": "point", "shape": "square", "filled": true, "size": 169, "color": "#00ff00", "opacity": 1, "clip": true},
      "encoding": {
        "x": {"field": "E", "type": "quantitative", "title": "energy, MeV", "scale": {"type": "log", "domain": [100, 10000000], "nice": false}},
        "y": {"field": "F", "type": "quantitative", "title": "E³ I(E), cm⁻² sr⁻¹ s⁻¹ MeV²", "scale": {"type": "log", "domain": [100, 100000], "nice": false}}
      }
    },
    {
      "data": {"name": "pts"},
      "transform": [{"filter": "datum.s === 'I'"}],
      "mark": {"type": "point", "shape": "square", "filled": false, "size": 64, "color": "#00dd00", "strokeWidth": 1.5, "opacity": 1, "clip": true},
      "encoding": {
        "x": {"field": "E", "type": "quantitative", "title": "energy, MeV", "scale": {"type": "log", "domain": [100, 10000000], "nice": false}},
        "y": {"field": "F", "type": "quantitative", "title": "E³ I(E), cm⁻² sr⁻¹ s⁻¹ MeV²", "scale": {"type": "log", "domain": [100, 100000], "nice": false}}
      }
    },
    {
      "data": {"name": "txt"},
      "transform": [{"filter": "datum.g === 'mv'"}],
      "mark": {"type": "text", "align": "left", "baseline": "alphabetic", "font": "Liberation Sans", "fontWeight": "bold", "fontSize": 21, "color": "#6c8698"},
      "encoding": {
        "x": {"field": "E", "type": "quantitative", "title": "energy, MeV", "scale": {"type": "log", "domain": [100, 10000000], "nice": false}},
        "y": {"field": "F", "type": "quantitative", "title": "E³ I(E), cm⁻² sr⁻¹ s⁻¹ MeV²", "scale": {"type": "log", "domain": [100, 100000], "nice": false}},
        "text": {"field": "t"}
      }
    },
    {
      "data": {"name": "txt"},
      "transform": [{"filter": "datum.g === 'za'"}],
      "mark": {"type": "text", "align": "right", "baseline": "alphabetic", "font": "Liberation Sans", "fontWeight": "bold", "fontSize": 23, "color": "#6c8698"},
      "encoding": {
        "x": {"field": "E", "type": "quantitative", "title": "energy, MeV", "scale": {"type": "log", "domain": [100, 10000000], "nice": false}},
        "y": {"field": "F", "type": "quantitative", "title": "E³ I(E), cm⁻² sr⁻¹ s⁻¹ MeV²", "scale": {"type": "log", "domain": [100, 100000], "nice": false}},
        "text": {"field": "t"}
      }
    },
    {
      "data": {"name": "txt"},
      "transform": [{"filter": "datum.g === 'lis'"}],
      "mark": {"type": "text", "align": "left", "baseline": "alphabetic", "font": "Liberation Sans", "fontWeight": "normal", "fontSize": 48, "color": "black"},
      "encoding": {
        "x": {"field": "E", "type": "quantitative", "title": "energy, MeV", "scale": {"type": "log", "domain": [100, 10000000], "nice": false}},
        "y": {"field": "F", "type": "quantitative", "title": "E³ I(E), cm⁻² sr⁻¹ s⁻¹ MeV²", "scale": {"type": "log", "domain": [100, 100000], "nice": false}},
        "text": {"field": "t"}
      }
    },
    {
      "data": {"name": "txt"},
      "transform": [{"filter": "datum.g === 'title'"}],
      "mark": {"type": "text", "align": "center", "baseline": "alphabetic", "font": "Liberation Sans", "fontWeight": "normal", "fontSize": 48, "color": "black", "clip": false},
      "encoding": {
        "x": {"field": "E", "type": "quantitative", "title": "energy, MeV", "scale": {"type": "log", "domain": [100, 10000000], "nice": false}},
        "y": {"field": "F", "type": "quantitative", "title": "E³ I(E), cm⁻² sr⁻¹ s⁻¹ MeV²", "scale": {"type": "log", "domain": [100, 100000], "nice": false}},
        "text": {"field": "t"}
      }
    }
  ]
}
